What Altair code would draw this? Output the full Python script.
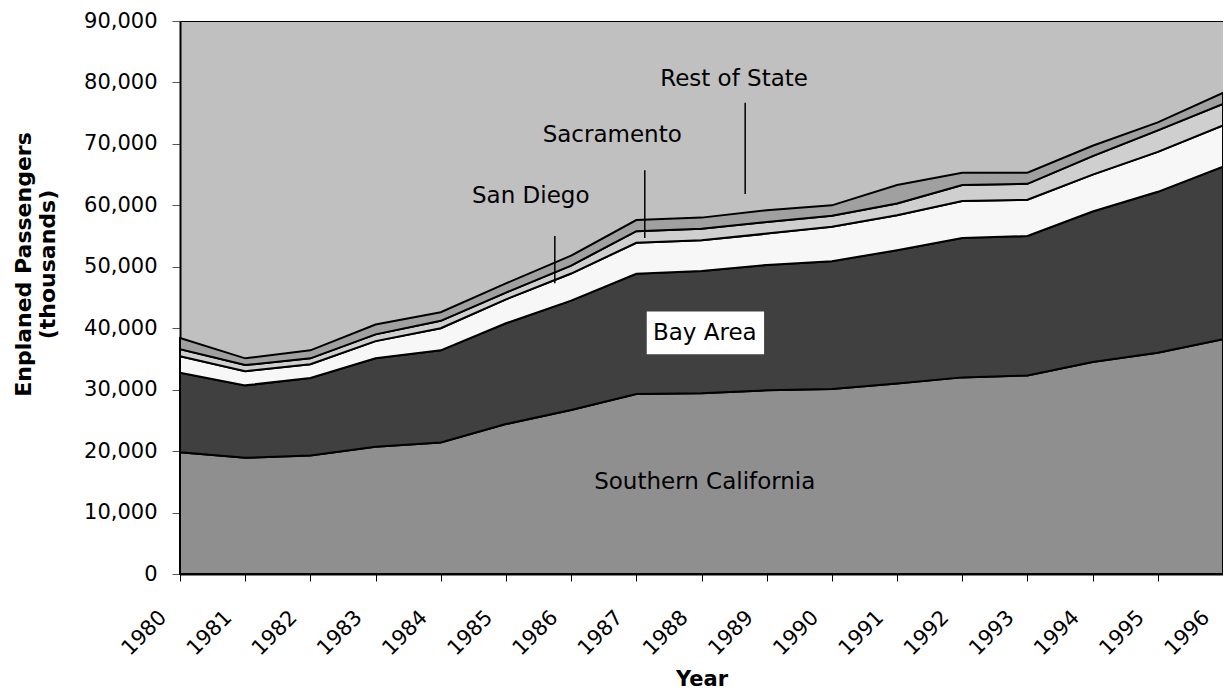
import altair as alt
import pandas as pd

years = list(range(1980, 1997))
southern_california = [19800, 18900, 19300, 20700, 21400, 24400, 26700, 29300, 29400,
                       29900, 30100, 31000, 32000, 32300, 34500, 36000, 38200]
bay_area = [12950, 11800, 12600, 14400, 15000, 16400, 17800, 19550, 19900,
            20400, 20800, 21700, 22700, 22700, 24500, 26200, 28100]
san_diego = [2700, 2300, 2250, 2800, 3600, 3900, 4400, 5050, 5000,
             5100, 5600, 5700, 6000, 5900, 6000, 6500, 6700]
sacramento = [1150, 1000, 950, 1100, 1200, 1100, 1300, 1900, 1900,
              1900, 1800, 1900, 2600, 2600, 3000, 3500, 3500]
rest_of_state = [1800, 1100, 1300, 1600, 1400, 1500, 1600, 1800, 1800,
                 1900, 1700, 3000, 2000, 1800, 1700, 1300, 1800]

series_names = ["Southern California", "Bay Area", "San Diego", "Sacramento", "Rest of State"]
series_values = [southern_california, bay_area, san_diego, sacramento, rest_of_state]
series_colors = ["#8f8f8f", "#404040", "#f7f7f7", "#cfcfcf", "#a0a0a0"]

rows = []
for i, (name, vals) in enumerate(zip(series_names, series_values)):
    for y, v in zip(years, vals):
        rows.append({"Year": y, "Region": name, "Passengers": v, "order": i})
df = pd.DataFrame(rows)

# annotation texts (data units)
label_text = ["Southern California", "Bay Area", "San Diego", "Sacramento", "Rest of State"]
label_x = [1988.05, 1988.05, 1985.38, 1986.63, 1988.50]
label_y = [14900, 39300, 61500, 71400, 80600]
labels = pd.DataFrame({"text": label_text, "x": label_x, "y": label_y})

# pointer lines (data units)
ptr_x = [1985.75, 1987.13, 1988.67]
ptr_y1 = [47300, 54700, 61850]
ptr_y2 = [55000, 65700, 76700]
ptrs = pd.DataFrame({"x": ptr_x, "y1": ptr_y1, "y2": ptr_y2})

# white box behind "Bay Area"
box = pd.DataFrame({"x1": [1987.16], "x2": [1988.96], "y1": [35780], "y2": [42740]})

FONT = "DejaVu Sans"

xscale = alt.Scale(domain=[1980, 1996], nice=False, zero=False)
yscale = alt.Scale(domain=[0, 90000], nice=False)

areas = alt.Chart(df).mark_area(stroke="black", strokeWidth=2, opacity=1).encode(
    x=alt.X("Year:Q", scale=xscale,
            axis=alt.Axis(title="Year", values=years, format="d", labelAngle=-45,
                          labelAlign="right", labelBaseline="middle", labelPadding=33,
                          labelOffset=-17,
                          tickSize=7, tickColor="black", domainColor="black", domainWidth=2,
                          labelFontSize=21, labelFont=FONT, labelColor="black",
                          titleFont=FONT, titleFontSize=21, titleFontWeight="bold",
                          titleBaseline="bottom", titleY=115,
                          grid=False, labelFlush=False, labelOverlap=False)),
    y=alt.Y("Passengers:Q", stack="zero", scale=yscale,
            axis=alt.Axis(title=["Enplaned Passengers", "(thousands)"], values=list(range(0, 90001, 10000)),
                          format=",.0f", tickSize=8, tickColor="#555555", domainColor="black",
                          domainWidth=2, labelPadding=15, labelFontSize=21, labelFont=FONT,
                          labelColor="black", titleFont=FONT, titleFontSize=22,
                          titleFontWeight="bold", titlePadding=24, titleY=243, grid=False)),
    color=alt.Color("Region:N", scale=alt.Scale(domain=series_names, range=series_colors), legend=None),
    order=alt.Order("order:Q", sort="ascending"),
)

box_mark = alt.Chart(box).mark_rect(color="white").encode(
    x="x1:Q", x2="x2:Q", y="y1:Q", y2="y2:Q"
)

ptr_mark = alt.Chart(ptrs).mark_rule(color="black", strokeWidth=1.5).encode(
    x="x:Q", y="y1:Q", y2="y2:Q"
)

text_mark = alt.Chart(labels).mark_text(font=FONT, fontSize=23, color="black",
                                        align="center", baseline="middle").encode(
    x="x:Q", y="y:Q", text="text:N"
)

chart = alt.layer(areas, box_mark, ptr_mark, text_mark).properties(
    width=1043, height=553,
    autosize=alt.AutoSizeParams(type="none"),
    padding={"left": 172, "top": 13, "right": 0, "bottom": 116},
    background="white",
).configure_view(fill="#c0c0c0", stroke="black", strokeWidth=1)

chart.save("out.html", embed_options={"renderer": "svg", "actions": False})
